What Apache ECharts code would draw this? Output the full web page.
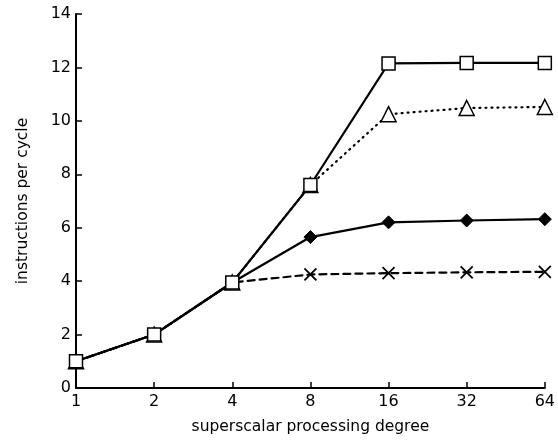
<!DOCTYPE html>
<html><head><meta charset="utf-8">
<script src="https://cdn.jsdelivr.net/npm/echarts@6/dist/echarts.min.js"></script>
<style>html,body{margin:0;padding:0;background:#fff}#c{width:558px;height:440px}</style>
</head><body><div id="c"></div>
<script>
const categories = ['1','2','4','8','16','32','64'];
const squareSeries = [1, 2, 3.95, 7.6, 12.15, 12.17, 12.17];
const triangleSeries = [1, 2, 3.95, 7.6, 10.25, 10.48, 10.52];
const diamondSeries = [1, 2, 3.95, 5.65, 6.2, 6.27, 6.32];
const crossSeries = [1, 2, 3.95, 4.25, 4.3, 4.33, 4.35];
const yTicks = [0, 2, 4, 6, 8, 10, 12, 14];

const font = 'DejaVu Sans';
const chart = echarts.init(document.getElementById('c'));
function mk(name, data, symbol, size, lineType, fill, bw){
  return {
    name, type:'line', data, symbol, symbolSize:size,
    lineStyle:{color:'#000', width:2.2, type:lineType, cap:'round'},
    itemStyle:{color:fill, borderColor:'#000', borderWidth:bw},
    showSymbol:true, animation:false
  };
}
chart.setOption({
  animation:false,
  backgroundColor:'#fff',
  grid:{left:76, right:13, top:14, bottom:51},
  xAxis:{
    type:'category', data:categories, boundaryGap:false,
    name:'superscalar processing degree', nameLocation:'middle', nameGap:31,
    nameTextStyle:{color:'#000', fontFamily:font, fontSize:15.5},
    axisLine:{lineStyle:{color:'#000', width:2}},
    axisTick:{inside:true, length:6, lineStyle:{color:'#000', width:1.5}},
    axisLabel:{color:'#000', fontFamily:font, fontSize:16, margin:6},
    splitLine:{show:false}
  },
  yAxis:{
    type:'value', min:0, max:14, interval:2,
    name:'instructions per cycle', nameLocation:'middle', nameGap:45, nameRotate:90,
    nameTextStyle:{color:'#000', fontFamily:font, fontSize:15.5},
    axisLine:{show:true, lineStyle:{color:'#000', width:2}},
    axisTick:{show:true, inside:true, length:6, lineStyle:{color:'#000', width:1.5}},
    axisLabel:{color:'#000', fontFamily:font, fontSize:16, margin:5,
      formatter:v=>yTicks.includes(v)?String(v):''},
    splitLine:{show:false}
  },
  series:[
    mk('cross', crossSeries, 'path://M0,0L10,10M10,0L0,10', 12, [7,5], '#000', 1.8),
    mk('diamond', diamondSeries, 'diamond', 13, 'solid', '#000', 1),
    mk('triangle', triangleSeries, 'triangle', 15, [1,5], '#fff', 1.5),
    mk('square', squareSeries, 'rect', 13, 'solid', '#fff', 1.5)
  ]
});
</script></body></html>
